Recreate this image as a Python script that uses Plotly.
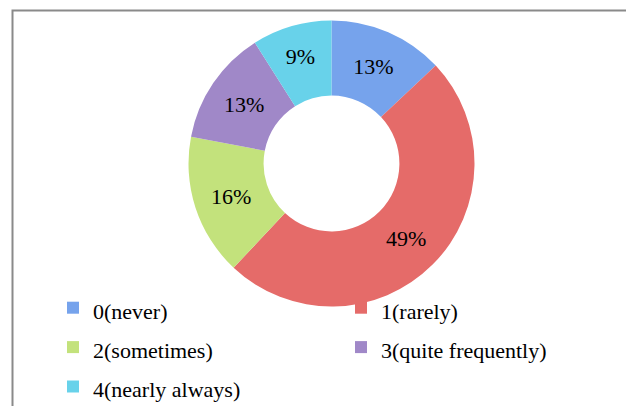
import plotly.graph_objects as go

labels = ["0(never)", "1(rarely)", "2(sometimes)", "3(quite frequently)", "4(nearly always)"]
values = [13, 49, 16, 13, 9]
colors = ["#76A3EC", "#E56B69", "#C3E27C", "#A088C8", "#68D2EA"]

SERIF = "Liberation Serif"

# browser body has an 8px margin, so the figure starts at (8, 8) on screen
OFF = 8
W, H = 634 - OFF, 406 - OFF
cx, cy, R = 331.5 - OFF, 163.5 - OFF, 143

legend_labels = [f"<span style='font-size:22px'>{l}</span>" for l in labels]

fig = go.Figure(go.Pie(
    labels=legend_labels,
    values=values,
    hole=0.475,
    sort=False,
    direction="clockwise",
    rotation=0,
    marker=dict(colors=colors, line=dict(width=0)),
    textinfo="percent",
    textposition="inside",
    insidetextorientation="horizontal",
    textfont=dict(family=SERIF, size=22, color="black"),
    domain=dict(x=[(cx - R) / W, (cx + R) / W], y=[1 - (cy + R) / H, 1 - (cy - R) / H]),
))

fig.update_layout(
    width=W, height=H,
    margin=dict(l=0, r=0, t=0, b=0, autoexpand=False),
    paper_bgcolor="white",
    showlegend=True,
    legend=dict(
        orientation="h",
        x=(93 - OFF - 40) / W, xanchor="left",
        y=1 - (283 - OFF) / H, yanchor="top",
        entrywidth=243, entrywidthmode="pixels",
        font=dict(family=SERIF, size=28, color="black"),
        bgcolor="rgba(0,0,0,0)",
    ),
    shapes=[dict(type="rect", xref="paper", yref="paper",
                 x0=(12.5 - OFF) / W, x1=(633 - OFF) / W, y0=-0.05, y1=1 - (10.5 - OFF) / H,
                 line=dict(color="#8a8a8a", width=2), layer="below")],
)

fig.write_html("out.html")
